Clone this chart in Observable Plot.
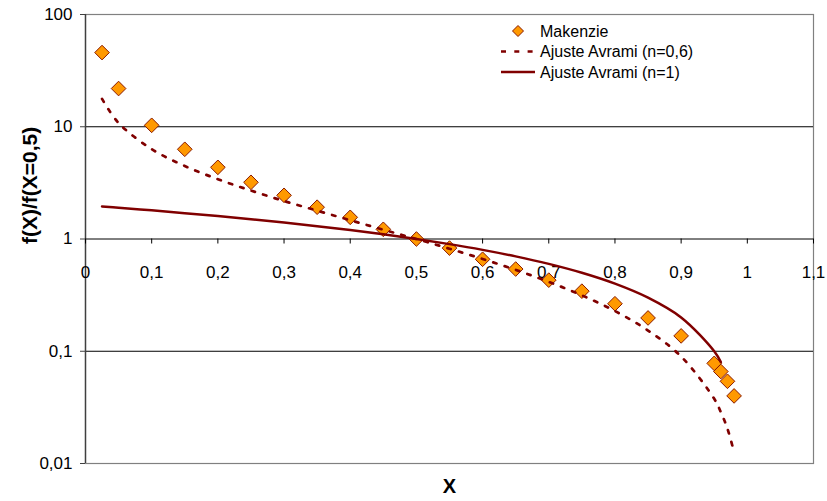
<!DOCTYPE html>
<html>
<head>
<meta charset="utf-8">
<script src="https://cdn.jsdelivr.net/npm/d3@7"></script>
<script src="https://cdn.jsdelivr.net/npm/@observablehq/plot@0.6"></script>
<style>
  body { margin: 0; background: #fff; }
  #chart { width: 827px; height: 501px; }
</style>
</head>
<body>
<div id="chart"></div>
<script>
// Fraction transformed X at which each series is evaluated
const xMakenzie = [0.025, 0.05, 0.1, 0.15, 0.2, 0.25, 0.3, 0.35, 0.4, 0.45, 0.5, 0.55, 0.6, 0.65, 0.7, 0.75, 0.8, 0.85, 0.9, 0.95, 0.96, 0.97, 0.98];
// Normalised rate f(X)/f(X=0,5)
const makenzie = [45.8, 21.9, 10.3, 6.3, 4.35, 3.2, 2.45, 1.92, 1.56, 1.22, 1.0, 0.83, 0.66, 0.54, 0.43, 0.343, 0.265, 0.198, 0.137, 0.078, 0.066, 0.054, 0.040];

const xAvrami06 = [0.025, 0.05, 0.1, 0.15, 0.2, 0.25, 0.3, 0.35, 0.4, 0.45, 0.5, 0.55, 0.6, 0.65, 0.7, 0.75, 0.8, 0.85, 0.9, 0.95, 0.96, 0.97, 0.98];
const avrami06 = [17.7, 10.8, 6.32, 4.47, 3.41, 2.70, 2.18, 1.79, 1.47, 1.21, 1.0, 0.819, 0.664, 0.531, 0.415, 0.315, 0.228, 0.153, 0.0898, 0.0377, 0.0287, 0.0204, 0.0126];

const xAvrami1 = [0.025, 0.05, 0.1, 0.15, 0.2, 0.25, 0.3, 0.35, 0.4, 0.45, 0.5, 0.55, 0.6, 0.65, 0.7, 0.75, 0.8, 0.85, 0.9, 0.95, 0.96];
const avrami1 = [1.95, 1.9, 1.8, 1.7, 1.6, 1.5, 1.4, 1.3, 1.2, 1.1, 1.0, 0.9, 0.8, 0.7, 0.6, 0.5, 0.4, 0.3, 0.2, 0.1, 0.08];

const seriesNames = ["Makenzie", "Ajuste Avrami (n=0,6)", "Ajuste Avrami (n=1)"];

const xTicks = [0, 0.1, 0.2, 0.3, 0.4, 0.5, 0.6, 0.7, 0.8, 0.9, 1, 1.1];
const xTickLabels = ["0", "0,1", "0,2", "0,3", "0,4", "0,5", "0,6", "0,7", "0,8", "0,9", "1", "1,1"];
const yTicks = [0.01, 0.1, 1, 10, 100];
const yTickLabels = ["0,01", "0,1", "1", "10", "100"];
const gridValues = [0.1, 1, 10];

const xTitle = "X";
const yTitle = "f(X)/f(X=0,5)";

const pts = xMakenzie.map((x, i) => ({x, y: makenzie[i]}));
const fit06 = xAvrami06.map((x, i) => ({x, y: avrami06[i]}));
const fit1 = xAvrami1.map((x, i) => ({x, y: avrami1[i]}));
const xTickRows = xTicks.map((x, i) => ({x, label: xTickLabels[i]}));

const MAROON = "#800000";
const ORANGE = "#FF9900";
const OUTLINE = "#8A1A00";

// Legend drawn in the upper right of the plot area
function legend() {
  const g = d3.create("svg:g")
    .attr("font-size", 16)
    .attr("fill", "#000");
  const tx = 540, rows = [31, 51.5, 72];
  g.append("path")
    .attr("d", "M0,-5.5L5.5,0L0,5.5L-5.5,0Z")
    .attr("transform", `translate(518,${rows[0]})`)
    .attr("fill", ORANGE).attr("stroke", OUTLINE).attr("stroke-width", 1);
  g.append("line")
    .attr("x1", 501).attr("x2", 533).attr("y1", rows[1]).attr("y2", rows[1])
    .attr("stroke", MAROON).attr("stroke-width", 2.7).attr("stroke-dasharray", "5,8.3");
  g.append("line")
    .attr("x1", 501).attr("x2", 535).attr("y1", rows[2]).attr("y2", rows[2])
    .attr("stroke", MAROON).attr("stroke-width", 2.5);
  seriesNames.forEach((name, i) => {
    g.append("text")
      .attr("x", tx).attr("y", rows[i]).attr("dy", "0.35em")
      .attr("text-anchor", "start")
      .text(name);
  });
  return g.node();
}

const chart = Plot.plot({
  width: 827,
  height: 501,
  marginLeft: 85,
  marginRight: 14,
  marginTop: 14,
  marginBottom: 38,
  style: {fontFamily: "'Liberation Sans', Arial, sans-serif", background: "#fff", color: "#000", overflow: "visible"},
  x: {domain: [0, 1.1], axis: null},
  y: {type: "log", domain: [0.01, 100], axis: null},
  marks: [
    Plot.frame({stroke: "#808080", strokeWidth: 1.2}),
    Plot.ruleY(gridValues, {stroke: "#000", strokeWidth: 1}),
    Plot.ruleX([0], {stroke: "#404040", strokeWidth: 1.4}),
    Plot.axisY(yTicks, {
      tickFormat: d => yTickLabels[yTicks.indexOf(d)],
      tickSize: 5,
      tickPadding: 8,
      fontSize: 17,
      stroke: "#404040",
      label: null
    }),
    // x ticks and labels sit on the y = 1 line
    Plot.ruleX(xTickRows, {x: "x", y1: () => 1, y2: () => 1, insetBottom: -5, stroke: "#000"}),
    Plot.text(xTickRows, {x: "x", y: () => 1, text: "label", dy: 34, fontSize: 17, lineAnchor: "middle"}),
    Plot.text([yTitle], {frameAnchor: "left", text: d => d, rotate: -90, dx: -55, dy: 5, fontSize: 21, fontWeight: "bold"}),
    Plot.text([xTitle], {frameAnchor: "bottom", text: d => d, dy: 23, fontSize: 20, fontWeight: "bold", lineAnchor: "middle"}),
    Plot.dot(pts, {x: "x", y: "y", symbol: "diamond2", r: 6.6, fill: ORANGE, stroke: OUTLINE, strokeWidth: 1}),
    Plot.line(fit06, {x: "x", y: "y", curve: "catmull-rom", stroke: MAROON, strokeWidth: 2.7, strokeDasharray: "3.5,8.5"}),
    Plot.line(fit1, {x: "x", y: "y", curve: "catmull-rom", stroke: MAROON, strokeWidth: 2.5}),
    legend
  ]
});
document.getElementById("chart").appendChild(chart);
</script>
</body>
</html>
